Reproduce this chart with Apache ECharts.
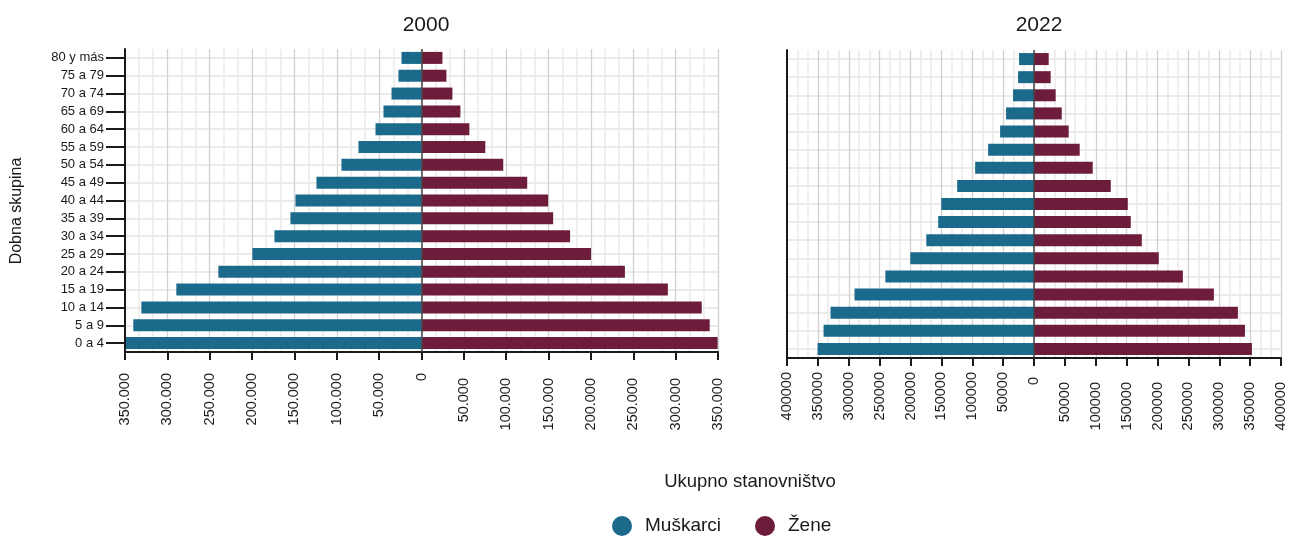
<!DOCTYPE html>
<html>
<head>
<meta charset="utf-8">
<script src="https://cdn.jsdelivr.net/npm/echarts@6/dist/echarts.min.js"></script>
<style>
  html, body { margin: 0; padding: 0; background: #fff; }
  #chart { width: 1289px; height: 536px; }
</style>
</head>
<body>
<div id="chart"></div>
<script>
// dobne skupine, odozdo prema gore
const ageGroups = ['0 a 4', '5 a 9', '10 a 14', '15 a 19', '20 a 24', '25 a 29', '30 a 34', '35 a 39',
  '40 a 44', '45 a 49', '50 a 54', '55 a 59', '60 a 64', '65 a 69', '70 a 74', '75 a 79', '80 y más'];

const males2000 = [349800, 340200, 330700, 289400, 239800, 199600, 173600, 154700, 148800,
  124000, 94500, 74400, 54300, 44900, 35400, 27200, 23600];
const females2000 = [349600, 340200, 330800, 290800, 240100, 200100, 175400, 155400, 149500,
  124800, 96500, 75300, 56500, 45900, 36500, 29400, 24700];

const males2022 = [350500, 340800, 329500, 290700, 240700, 200300, 174400, 155100, 150200,
  124400, 95300, 74300, 54900, 45200, 33900, 25800, 24200];
const females2022 = [352900, 341600, 330200, 291300, 241100, 202100, 174600, 156700, 151900,
  124300, 95100, 74000, 56200, 44900, 35100, 27000, 23800];

const panelTitles = ['2000', '2022'];
const seriesNames = ['Muškarci', 'Žene'];

const blue = '#1b6a8c';
const maroon = '#6e1c3b';
const ink = '#1a1a1a';
const font = 'Liberation Sans, Arial, sans-serif';

// panel boxes: [left, top, width, height]
const panels = [
  [125, 49, 593, 303],
  [787, 50, 494, 308]
];

const chart = echarts.init(document.getElementById('chart'));

const withDots = v => String(Math.abs(v)).replace(/\B(?=(\d{3})+(?!\d))/g, '.');
const plain = v => String(Math.abs(v));

// pozitivne oznake su malo niže od negativnih
function tickFormatter(fmt) {
  return v => v > 0 ? '{p|' + fmt(v) + '}' : (v === 0 ? '{z|0}' : '{n|' + fmt(v) + '}');
}

function makeXAxis(gridIndex, max, fmt, margin, posPad, zeroPad) {
  return {
    type: 'value',
    gridIndex: gridIndex,
    min: -max,
    max: max,
    interval: 50000,
    axisLine: { show: true, onZero: false, lineStyle: { color: ink, width: 2 } },
    axisTick: { show: true, length: 8, lineStyle: { color: ink, width: 2 } },
    axisLabel: {
      rotate: 90, fontSize: 14.5, color: ink, fontFamily: font, margin: margin,
      formatter: tickFormatter(fmt),
      rich: {
        n: { fontSize: 14.5, color: ink, fontFamily: font },
        z: { fontSize: 14.5, color: ink, fontFamily: font, padding: [0, zeroPad, 0, 0] },
        p: { fontSize: 14.5, color: ink, fontFamily: font, padding: [0, posPad, 0, 0] }
      }
    },
    splitLine: { show: true, lineStyle: { color: '#d2d2d2', width: 1.3 } },
    minorTick: { show: false, splitNumber: 3 },
    minorSplitLine: { show: true, lineStyle: { color: '#ebebeb', width: 1.6 } }
  };
}

function makeYAxis(gridIndex, withLabels) {
  return {
    type: 'category',
    gridIndex: gridIndex,
    data: ageGroups,
    axisLine: { show: true, onZero: false, lineStyle: { color: ink, width: 2 } },
    axisTick: { show: withLabels, alignWithLabel: true, length: 19, lineStyle: { color: ink, width: 2 } },
    axisLabel: { show: withLabels, fontSize: 13, color: ink, fontFamily: font, margin: 21 },
    splitLine: { show: false },
    z: 3
  };
}

// pomoćna os samo za vodoravne linije kroz sredine skupina
function centerLineAxes(gridIndex) {
  return {
    x: { type: 'value', gridIndex: gridIndex, show: false, min: 0, max: 1 },
    y: {
      type: 'category', gridIndex: gridIndex, data: ageGroups, boundaryGap: false,
      axisLine: { show: false }, axisTick: { show: false }, axisLabel: { show: false },
      splitLine: { show: true, lineStyle: { color: '#ebebeb', width: 2 } },
      z: 0
    }
  };
}

function barSeries(name, values, idx, sign, color) {
  const s = {
    name: name,
    type: 'bar',
    xAxisIndex: idx,
    yAxisIndex: idx,
    stack: 'pyr' + idx,
    barWidth: 12,
    itemStyle: { color: color },
    data: values.map(v => sign * v)
  };
  if (sign < 0) {
    s.markLine = {
      silent: true,
      symbol: 'none',
      label: { show: false },
      lineStyle: { color: '#444', width: 1.5, type: 'solid' },
      data: [{ xAxis: 0 }],
      z: 10
    };
  }
  return s;
}

const grids = panels.map(p => ({ left: p[0], top: p[1], width: p[2], height: p[3] }));
// inner grids: from the first category centre to the last one
panels.forEach(p => {
  const band = p[3] / ageGroups.length;
  grids.push({ left: p[0], top: p[1] + band / 2, width: p[2], height: p[3] - band });
});

const helper0 = centerLineAxes(2);
const helper1 = centerLineAxes(3);

const option = {
  animation: false,
  textStyle: { fontFamily: font },
  title: [
    { text: panelTitles[0], left: 421, top: 10, textAlign: 'center',
      textStyle: { fontSize: 21, fontWeight: 'normal', color: ink, fontFamily: font } },
    { text: panelTitles[1], left: 1034, top: 10, textAlign: 'center',
      textStyle: { fontSize: 21, fontWeight: 'normal', color: ink, fontFamily: font } },
    { text: 'Ukupno stanovništvo', left: 745, top: 467, textAlign: 'center',
      textStyle: { fontSize: 18.5, fontWeight: 'normal', color: ink, fontFamily: font } }
  ],
  graphic: [{
    type: 'text',
    x: 17, y: 211,
    rotation: Math.PI / 2,
    style: { text: 'Dobna skupina', fontSize: 16, fill: ink, fontFamily: font,
      textAlign: 'center', textVerticalAlign: 'middle' }
  }],
  legend: {
    data: seriesNames,
    left: 607, top: 511,
    icon: 'circle',
    itemWidth: 20, itemHeight: 20,
    itemGap: 34,
    textStyle: { fontSize: 19, color: ink, fontFamily: font, padding: [0, 0, 0, 8] }
  },
  grid: grids,
  xAxis: [
    makeXAxis(0, 350000, withDots, 21, 5, 0),
    makeXAxis(1, 400000, plain, 14, 10, 5),
    helper0.x, helper1.x
  ],
  yAxis: [makeYAxis(0, true), makeYAxis(1, false), helper0.y, helper1.y],
  series: [
    barSeries(seriesNames[0], males2000, 0, -1, blue),
    barSeries(seriesNames[1], females2000, 0, 1, maroon),
    barSeries(seriesNames[0], males2022, 1, -1, blue),
    barSeries(seriesNames[1], females2022, 1, 1, maroon)
  ]
};

chart.setOption(option);
</script>
</body>
</html>
